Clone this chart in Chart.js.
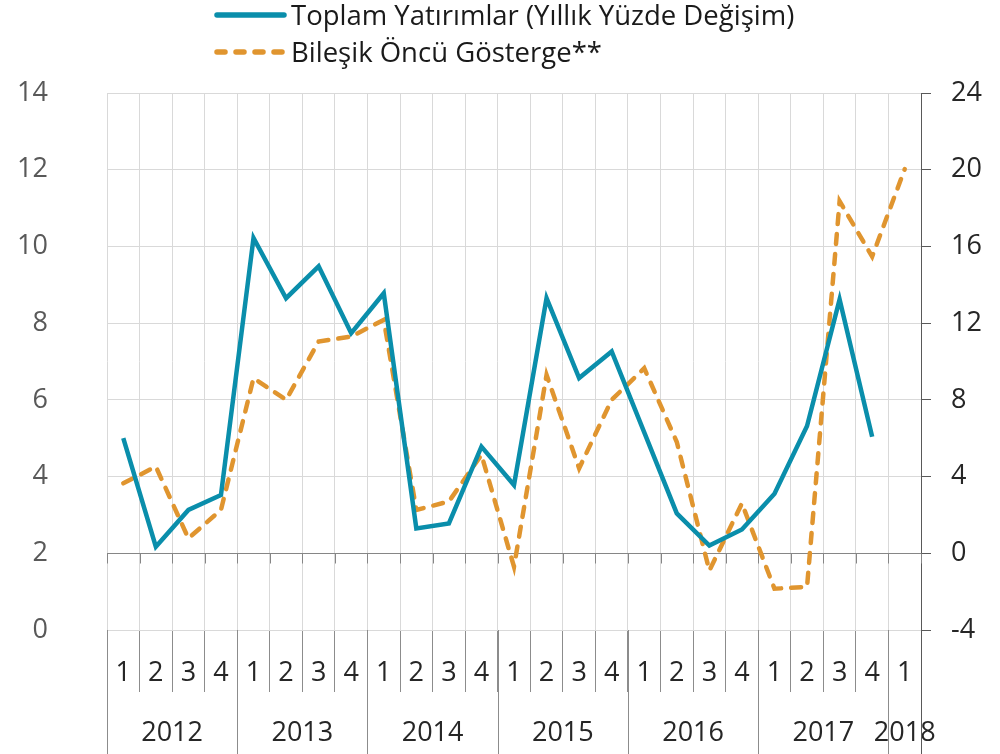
<!DOCTYPE html>
<html>
<head>
<meta charset="utf-8">
<script src="https://cdn.jsdelivr.net/npm/chart.js@4.4.1/dist/chart.umd.min.js"></script>
<style>
  html, body { margin: 0; padding: 0; background: #fff; }
  #chart { display: block; }
</style>
</head>
<body>
<canvas id="chart" width="1000" height="754"></canvas>
<script>
// data (2012Q1 .. 2018Q1)
const years = ['2012', '2013', '2014', '2015', '2016', '2017', '2018'];
const quartersPerYear = [4, 4, 4, 4, 4, 4, 1];
const investment = [5.0, 2.17, 3.13, 3.52, 10.22, 8.65, 9.48, 7.74, 8.78, 2.65, 2.78, 4.78,
  3.78, 8.65, 6.57, 7.26, 5.15, 3.04, 2.2, 2.62, 3.55, 5.32, 8.62, 5.04, null];
const leadingIndicator = [3.65, 4.52, 0.78, 2.26, 9.13, 8.0, 11.04, 11.3, 12.17, 2.26, 2.7, 5.13,
  -0.7, 9.3, 4.43, 8.0, 9.65, 5.8, -0.9, 2.6, -1.85, -1.75, 18.36, 15.47, 20.03];
const leftTicks = [0, 2, 4, 6, 8, 10, 12, 14];
const rightTicks = [-4, 0, 4, 8, 12, 16, 20, 24];
const seriesNames = ['Toplam Yatırımlar (Yıllık Yüzde Değişim)', 'Bileşik Öncü Gösterge**'];

const quarterLabels = [];
quartersPerYear.forEach(n => {
  for (let q = 1; q <= n; q++) quarterLabels.push(String(q));
});

const FONT = "'Open Sans', 'Noto Sans', sans-serif";
const BLUE = '#0a8eab';
const ORANGE = '#e0952f';

const extras = {
  id: 'extras',
  beforeDatasetsDraw(chart) {
    const {ctx, scales: {x, y}} = chart;
    const step = x.getPixelForValue(1) - x.getPixelForValue(0);
    const axisY = Math.round(y.getPixelForValue(2)) + 0.5;
    ctx.save();
    ctx.strokeStyle = '#868686';
    ctx.lineWidth = 1;
    ctx.beginPath();
    for (let i = 0; i <= quarterLabels.length; i++) {
      const px = Math.round(x.getPixelForValue(i) - step / 2) + 0.5;
      ctx.moveTo(px, axisY);
      ctx.lineTo(px, axisY + 10);
    }
    ctx.stroke();
    ctx.restore();
  },
  afterDraw(chart) {
    const {ctx, chartArea, scales: {x}} = chart;
    const step = x.getPixelForValue(1) - x.getPixelForValue(0);
    ctx.save();
    // year separators and labels
    let start = 0;
    ctx.lineWidth = 1;
    ctx.font = '27px ' + FONT;
    ctx.fillStyle = '#262626';
    ctx.textAlign = 'center';
    ctx.textBaseline = 'middle';
    years.forEach((yr, k) => {
      const end = start + quartersPerYear[k] - 1;
      const left = Math.round(x.getPixelForValue(start) - step / 2) + 0.5;
      ctx.strokeStyle = '#8c8c8c';
      ctx.beginPath();
      ctx.moveTo(left, chartArea.bottom);
      ctx.lineTo(left, chart.height);
      ctx.stroke();
      const cx = (x.getPixelForValue(start) + x.getPixelForValue(end)) / 2;
      ctx.fillText(yr, cx, 733);
      start = end + 1;
    });
    const rightEdge = Math.round(x.getPixelForValue(start) - step / 2) + 0.5;
    ctx.strokeStyle = '#595959';
    ctx.beginPath();
    ctx.moveTo(rightEdge, chartArea.bottom);
    ctx.lineTo(rightEdge, chart.height);
    ctx.stroke();

    // legend
    const items = [
      {text: seriesNames[0], color: BLUE, dash: [], y: 15},
      {text: seriesNames[1], color: ORANGE, dash: [8, 11], y: 52}
    ];
    items.forEach(it => {
      ctx.strokeStyle = it.color;
      ctx.lineWidth = 5.5;
      ctx.lineCap = 'round';
      ctx.setLineDash(it.dash);
      ctx.beginPath();
      ctx.moveTo(217, it.y);
      ctx.lineTo(284, it.y);
      ctx.stroke();
      ctx.setLineDash([]);
      ctx.fillStyle = '#1a1a1a';
      ctx.textAlign = 'left';
      ctx.font = '27.5px ' + FONT;
      ctx.fillText(it.text, 291, it.y + 2);
    });
    ctx.restore();
  }
};

new Chart(document.getElementById('chart'), {
  type: 'line',
  data: {
    labels: quarterLabels,
    datasets: [
      {
        label: seriesNames[0],
        data: investment,
        yAxisID: 'y',
        borderColor: BLUE,
        borderWidth: 4.5,
        pointRadius: 0,
        tension: 0,
        fill: false
      },
      {
        label: seriesNames[1],
        data: leadingIndicator,
        yAxisID: 'y1',
        borderColor: ORANGE,
        borderWidth: 4.5,
        borderDash: [10, 10],
        borderCapStyle: 'round',
        pointRadius: 0,
        tension: 0,
        fill: false
      }
    ]
  },
  options: {
    responsive: false,
    animation: false,
    devicePixelRatio: 1,
    layout: {padding: {top: 93}},
    plugins: {
      legend: {display: false},
      tooltip: {enabled: false}
    },
    scales: {
      x: {
        offset: true,
        afterFit: s => { s.height = 124; },
        grid: {
          offset: true,
          color: '#d9d9d9',
          tickColor: '#8c8c8c',
          tickLength: 62,
          drawTicks: true
        },
        border: {display: true, color: '#d9d9d9'},
        ticks: {
          autoSkip: false,
          maxRotation: 0,
          padding: -35,
          color: '#262626',
          font: {family: FONT, size: 27}
        }
      },
      y: {
        position: 'left',
        min: leftTicks[0],
        max: leftTicks[leftTicks.length - 1],
        afterFit: s => { s.width = 107; },
        grid: {
          color: c => (c.tick && c.tick.value === 2 ? '#868686' : '#d9d9d9'),
          drawTicks: false
        },
        border: {display: false},
        ticks: {
          stepSize: leftTicks[1] - leftTicks[0],
          padding: 59,
          color: '#595959',
          font: {family: FONT, size: 27}
        }
      },
      y1: {
        position: 'right',
        min: rightTicks[0],
        max: rightTicks[rightTicks.length - 1],
        afterFit: s => { s.width = 79; },
        grid: {
          drawOnChartArea: false,
          drawTicks: true,
          tickLength: 10,
          tickColor: '#595959'
        },
        border: {display: true, color: '#595959'},
        ticks: {
          stepSize: rightTicks[1] - rightTicks[0],
          padding: 20,
          color: '#262626',
          font: {family: FONT, size: 27}
        }
      }
    }
  },
  plugins: [extras]
});
</script>
</body>
</html>
